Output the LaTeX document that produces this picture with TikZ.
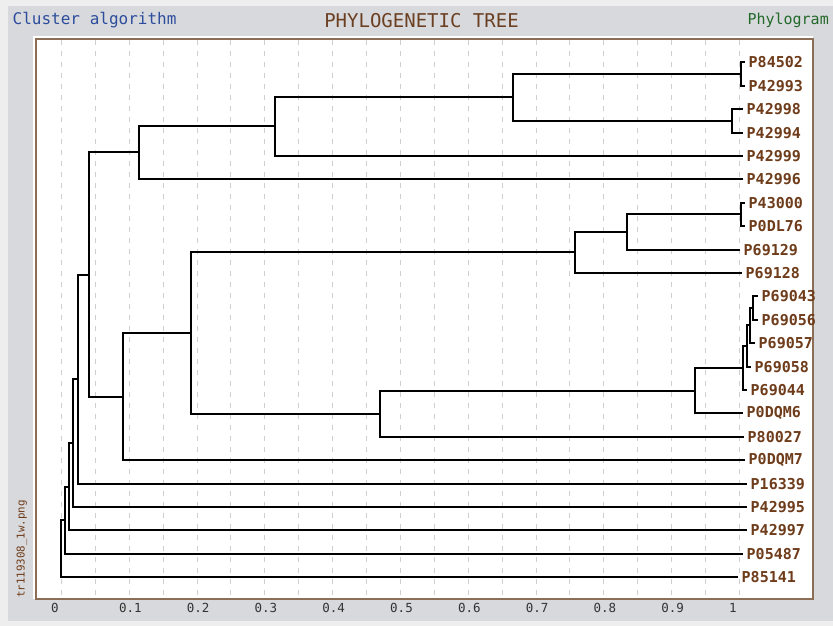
\documentclass[tikz,border=0pt]{standalone}
\usepackage{fontspec}
\setmonofont{DejaVu Sans Mono}
\definecolor{bgout}{HTML}{EEEEEE}
\definecolor{panel}{HTML}{D8D9DC}
\definecolor{framec}{HTML}{8C6D56}
\definecolor{leafc}{HTML}{6E3C1A}
\definecolor{titlec}{HTML}{6B3F22}
\definecolor{bluec}{HTML}{2C4C9C}
\definecolor{greenc}{HTML}{22692A}
\definecolor{gridc}{HTML}{CFCFCF}
\tikzset{
  leaf/.style={anchor=west, inner xsep=4.5pt, inner ysep=1pt, text=leafc,
    font={\ttfamily\bfseries\fontsize{15}{15}\selectfont}},
  branch/.style={draw=black, line width=2.8pt, line cap=rect, line join=miter},
  gline/.style={draw=gridc, line width=1pt, dash pattern=on 5pt off 6pt},
  axlab/.style={anchor=west, inner sep=0pt, text=black!80,
    font={\ttfamily\fontsize{12.5}{12.5}\selectfont}},
}
\begin{document}
\begin{tikzpicture}[x=1pt,y=-1pt]
\useasboundingbox (0,0) rectangle (833,626);
\fill[bgout] (0,0) rectangle (833,626);
\fill[panel] (8,6) rectangle (833,621);
\fill[white] (33,36) rectangle (813,599);
\filldraw[fill=white,draw=framec,line width=1.5pt] (36,39) rectangle (813,599);

% titles
\node[text=bluec, anchor=west, inner sep=0pt, font={\ttfamily\fontsize{16}{16}\selectfont}] (talg) at (12.5,20.5) {Cluster algorithm};
\node[text=titlec, inner sep=0pt, font={\ttfamily\fontsize{19}{19}\selectfont}] (ttitle) at (421.5,20.5) {PHYLOGENETIC TREE};
\node[text=greenc, anchor=east, inner sep=0pt, font={\ttfamily\fontsize{15}{15}\selectfont}] (tphy) at (829,20.5) {Phylogram};
\node[text=leafc, rotate=90, inner sep=0pt, font={\ttfamily\fontsize{10.8}{10.8}\selectfont}] (tfile) at (22,549) {tr119308\_1w.png};

% grid
\foreach \i in {0,...,20} \draw[gline] ({int(61.5+33.9*\i)+0.5},40) -- ({int(61.5+33.9*\i)+0.5},598);
\foreach \v/\t in {0/0,1/0.1,2/0.2,3/0.3,4/0.4,5/0.5,6/0.6,7/0.7,8/0.8,9/0.9,10/1}
  \node[axlab] (ax\v) at ({61+67.8*\v-10},608) {\t};

% leaves
\foreach \n/\x/\y in {P84502/744/62, P42993/744/86, P42998/742/109, P42994/742/133,
  P42999/742/156, P42996/742/179, P43000/744/203, P0DL76/744/226,
  P69129/739/250, P69128/741/273, P69043/757/296, P69056/757/320,
  P69057/754/343, P69058/750/367, P69044/746/390, P0DQM6/742/413,
  P80027/743/437, P0DQM7/744/460, P16339/746/484, P42995/746/507,
  P42997/746/530, P05487/742/554, P85141/737/577}
  \node[leaf] (\n) at (\x,\y) {\n};

% internal nodes
\foreach \n/\x/\y in {nA/741/74, nB/732/121, nC/513/97, nD/275/126, nE/139/152,
  nF/741/214, nG/627/232, nH/575/252, na/753/308, nb/750/325, nc/747/346,
  nd/743/368, nI/695/391, nJ/380/414, nK/191/333, nL/123/397, nM/89/275,
  nN/78/379, nO/73/443, nP/69/487, nQ/65/520, root/61/548}
  \coordinate (\n) at (\x,\y);

% branches to leaves
\foreach \p/\c in {nA/P84502, nA/P42993, nB/P42998, nB/P42994, nD/P42999, nE/P42996,
  nF/P43000, nF/P0DL76, nG/P69129, nH/P69128, na/P69043, na/P69056, nb/P69057,
  nc/P69058, nd/P69044, nI/P0DQM6, nJ/P80027, nL/P0DQM7, nN/P16339, nO/P42995,
  nP/P42997, nQ/P05487, root/P85141}
  \draw[branch] (\p) |- (\c.west);

% branches between internal nodes
\foreach \p/\c in {nC/nA, nC/nB, nD/nC, nE/nD, nG/nF, nH/nG, nb/na, nc/nb, nd/nc,
  nI/nd, nJ/nI, nK/nH, nK/nJ, nL/nK, nM/nE, nM/nL, nN/nM, nO/nN, nP/nO, nQ/nP, root/nQ}
  \draw[branch] (\p) |- (\c);
\end{tikzpicture}
\end{document}
